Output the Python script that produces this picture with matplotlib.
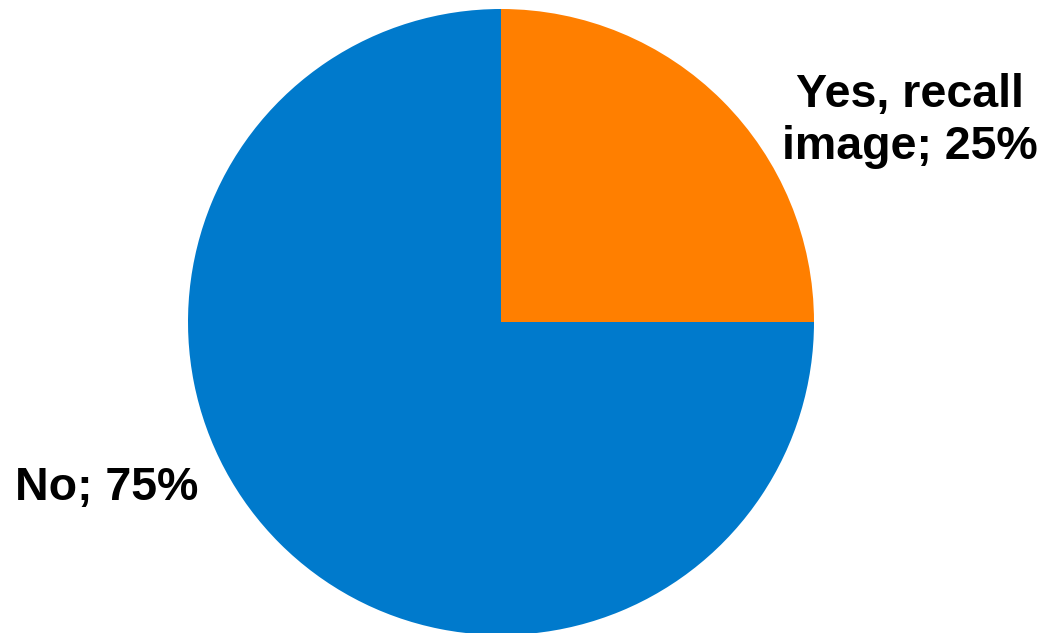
import matplotlib.pyplot as plt

labels = ['Yes, recall\nimage; 25%', 'No; 75%']
values = [25, 75]
colors = ['#FF7F00', '#007ACC']

plt.rcParams['font.family'] = ['Liberation Sans', 'DejaVu Sans']

W, H = 1045, 633
fig = plt.figure(figsize=(W / 100, H / 100), dpi=100)
ax = fig.add_axes([0, 0, 1, 1])

cx, cy, r = 501, H - 322, 313
ax.pie(values, colors=colors, startangle=90, counterclock=False,
       center=(cx, cy), radius=r, frame=True,
       wedgeprops={'linewidth': 0})
ax.set_xlim(0, W)
ax.set_ylim(0, H)
ax.set_aspect('equal')
ax.axis('off')

ax.text(910, H - 121, labels[0], ha='center', va='center',
        fontsize=33.5, fontweight='bold', linespacing=1.22)
ax.text(107, H - 488, labels[1], ha='center', va='center',
        fontsize=33.5, fontweight='bold')

fig.savefig('out.png', dpi=100)
